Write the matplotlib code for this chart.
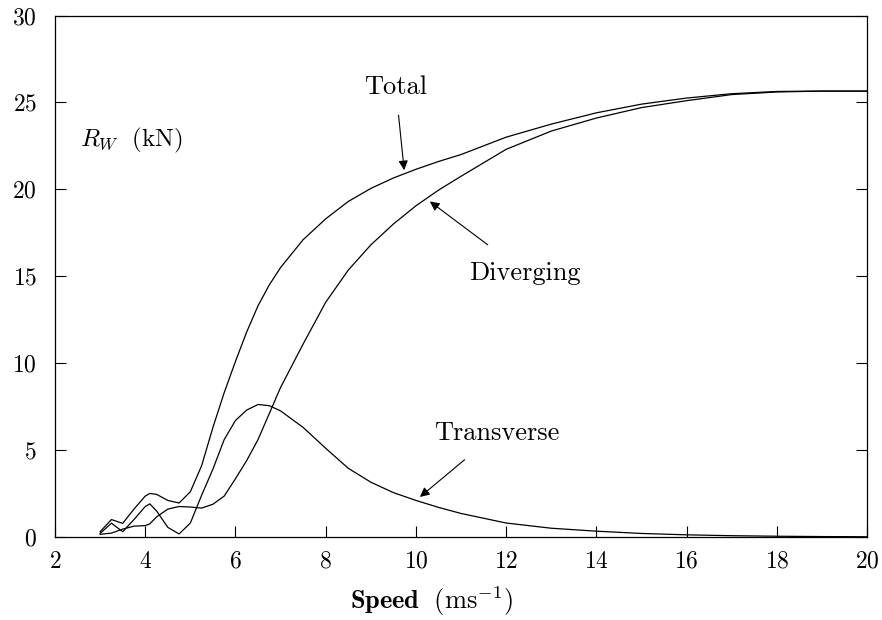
import numpy as np
import matplotlib
matplotlib.use('Agg')
import matplotlib.pyplot as plt

plt.rcParams['font.family'] = 'serif'
plt.rcParams['font.serif'] = ['cmr10']
plt.rcParams['mathtext.fontset'] = 'cm'
plt.rcParams['axes.formatter.use_mathtext'] = True
plt.rcParams['axes.unicode_minus'] = False

# speed (m/s) and wave resistance components (kN)
speed = [3.0, 3.25, 3.5, 3.75, 4.0, 4.1, 4.25, 4.5, 4.75, 5.0, 5.25, 5.5,
         5.75, 6.0, 6.25, 6.5, 6.75, 7.0, 7.5, 8.0, 8.5, 9.0, 9.5, 10.0,
         10.5, 11.0, 12.0, 13.0, 14.0, 15.0, 16.0, 17.0, 18.0, 19.0, 20.0]

total = [0.3, 1.0, 0.78, 1.6, 2.35, 2.5, 2.45, 2.1, 1.95, 2.6, 4.1, 6.3,
         8.3, 10.1, 11.8, 13.3, 14.5, 15.5, 17.1, 18.3, 19.3, 20.05, 20.65, 21.15,
         21.6, 22.0, 23.0, 23.75, 24.4, 24.9, 25.25, 25.5, 25.63, 25.65, 25.65]

diverging = [0.15, 0.22, 0.45, 0.62, 0.65, 0.75, 1.15, 1.6, 1.75, 1.72, 1.66, 1.88,
             2.35, 3.35, 4.4, 5.6, 7.1, 8.6, 11.1, 13.5, 15.35, 16.8, 18.0, 19.05,
             19.95, 20.75, 22.3, 23.35, 24.1, 24.7, 25.1, 25.45, 25.6, 25.65, 25.65]

transverse = [0.2, 0.79, 0.3, 1.0, 1.75, 1.9, 1.5, 0.55, 0.17, 0.8, 2.4, 3.9,
              5.6, 6.7, 7.3, 7.62, 7.55, 7.25, 6.3, 5.1, 3.95, 3.15, 2.55, 2.1,
              1.7, 1.35, 0.8, 0.5, 0.33, 0.2, 0.12, 0.07, 0.04, 0.02, 0.01]

fig = plt.figure(figsize=(8.82, 6.2), dpi=100)
ax = fig.add_axes([0.0624, 0.134, 0.9206, 0.841])

for yy in (total, diverging, transverse):
    ax.plot(speed, yy, color='k', lw=0.9)

ax.set_xlim(2, 20)
ax.set_ylim(0, 30)
ax.set_xticks(np.arange(2, 21, 2))
ax.set_yticks(np.arange(0, 31, 5))
ax.tick_params(direction='in', length=8, width=0.8, labelsize=17,
               top=False, right=True)
ax.tick_params(axis='x', pad=10)
ax.tick_params(axis='y', pad=13)
for s in ax.spines.values():
    s.set_linewidth(0.9)

ax.set_xlabel(r'$\mathbf{Speed}\ \ (\mathrm{ms}^{-1})$', fontsize=19, labelpad=8, x=0.464)
ax.text(2.55, 22.8, r'$R_W\ \ (\mathrm{kN})$', fontsize=18, va='center')

arw = dict(arrowstyle='-|>', color='k', lw=0.8, mutation_scale=14)
ax.annotate('Total', xy=(9.74, 21.1), xytext=(9.55, 25.9), fontsize=19,
            ha='center', va='center', arrowprops=dict(arw, shrinkA=10, shrinkB=0))
ax.annotate('Diverging', xy=(10.31, 19.3), xytext=(12.42, 15.2), fontsize=19,
            ha='center', va='center', arrowprops=dict(arw, shrinkA=16, shrinkB=0))
ax.annotate('Transverse', xy=(10.09, 2.3), xytext=(11.8, 6.0), fontsize=19,
            ha='center', va='center', arrowprops=dict(arw, shrinkA=14, shrinkB=0))

fig.savefig('out.png', dpi=100)
